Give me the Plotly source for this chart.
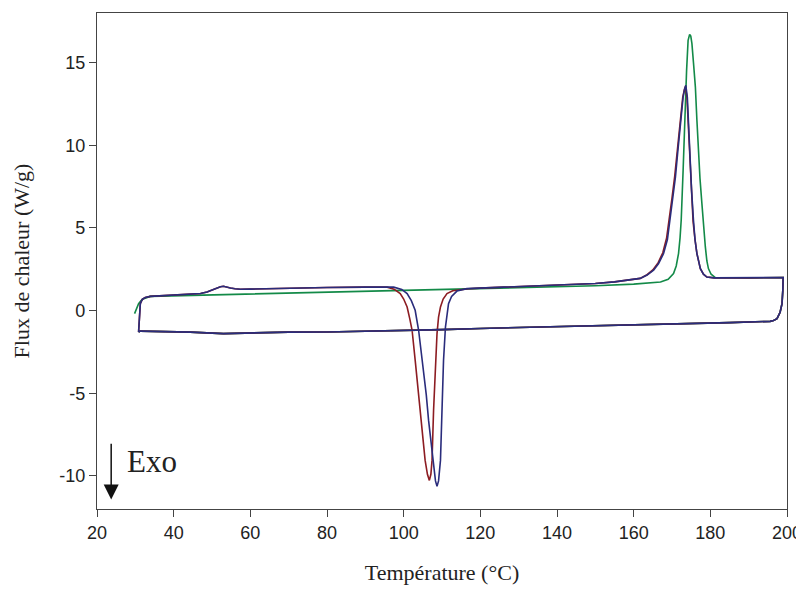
import plotly.graph_objects as go

# ---- data ----
blue_x = [30.85, 31.0, 31.3, 31.8, 32.6, 33.9, 38.0, 44.3, 47.0, 48.7, 50.0, 51.3, 52.2, 53.0, 53.9, 54.8, 56.0, 57.4,
          60.0, 70.0, 80.0, 90.0, 95.0, 97.4, 99.5, 100.9, 102.0, 103.0, 103.9, 104.5, 105.2, 105.9, 106.5, 107.2,
          107.8, 108.3, 108.7, 109.1, 109.6, 110.0, 110.4, 110.9, 111.3, 111.7, 112.5, 113.9, 116.5, 120.0, 130.0,
          140.0, 150.0, 155.0, 158.0, 160.0, 161.7, 163.5, 165.2, 166.5, 167.8, 168.8, 169.5, 170.2, 170.9, 171.5,
          172.0, 172.9, 173.3, 173.6, 174.0, 174.3, 174.6, 175.1, 175.6, 176.0, 176.5, 177.4, 178.2, 179.1, 181.0,
          190.0, 199.0, 198.9, 198.7, 198.2, 197.4, 196.5, 195.6, 185.0, 175.0, 161.7, 150.0, 140.0, 133.0, 120.0,
          110.0, 100.0, 94.0, 80.0, 70.0, 62.0, 53.0, 44.3, 35.0, 31.3, 30.85]
blue_y = [-1.29, -0.40, 0.42, 0.68, 0.79, 0.86, 0.90, 0.98, 1.03, 1.12, 1.25, 1.37, 1.44, 1.47, 1.44, 1.37, 1.32, 1.29,
          1.30, 1.37, 1.40, 1.42, 1.43, 1.42, 1.28, 1.03, 0.60, 0.02, -1.19, -2.30, -3.61, -5.10, -6.64, -8.20,
          -9.46, -10.30, -10.63, -10.30, -9.06, -6.03, -3.00, -1.00, -0.10, 0.42, 0.85, 1.18, 1.33, 1.36, 1.44,
          1.52, 1.64, 1.74, 1.84, 1.90, 1.95, 2.15, 2.44, 2.85, 3.45, 4.30, 5.46, 6.70, 8.08, 9.60,
          10.90, 12.92, 13.40, 13.63, 12.92, 11.40, 9.50, 7.30, 5.46, 4.30, 3.45, 2.54, 2.20, 2.03, 1.98,
          1.98, 2.00, 1.20, 0.42, -0.10, -0.49, -0.60, -0.65, -0.73, -0.78, -0.83, -0.90, -0.95, -0.99, -1.08,
          -1.15, -1.20, -1.25, -1.29, -1.30, -1.36, -1.39, -1.30, -1.26, -1.24, -1.29]

red_x = [30.85, 31.0, 31.3, 31.8, 32.6, 33.9, 38.0, 44.3, 47.0, 48.7, 50.0, 51.3, 52.2, 53.0, 53.9, 54.8, 56.0, 57.4,
         60.0, 70.0, 80.0, 90.0, 95.0, 95.7, 97.5, 99.1, 100.0, 100.9, 101.6, 102.2, 103.0, 103.9, 104.8, 105.6,
         106.2, 106.7, 107.1, 107.4, 107.8, 108.3, 108.7, 109.1, 109.6, 110.3, 111.3, 112.8, 114.8, 117.0, 120.0,
         130.0, 140.0, 150.0, 155.0, 158.0, 160.0, 161.7, 163.5, 165.0, 166.4, 167.6, 168.6, 169.3, 170.0, 170.7,
         171.4, 171.9, 172.8, 173.2, 173.5, 173.9, 174.2, 174.5, 175.0, 175.5, 176.0, 176.5, 177.4, 178.2, 179.1,
         181.0, 190.0, 199.0, 198.9, 198.7, 198.2, 197.4, 196.5, 195.6, 185.0, 175.0, 161.7, 150.0, 140.0, 133.0,
         120.0, 110.0, 100.0, 94.0, 80.0, 70.0, 62.0, 53.0, 44.3, 35.0, 31.3, 30.85]
red_y = [-1.29, -0.40, 0.42, 0.68, 0.79, 0.86, 0.90, 0.98, 1.03, 1.12, 1.25, 1.37, 1.44, 1.47, 1.44, 1.37, 1.32, 1.29,
         1.30, 1.37, 1.40, 1.42, 1.43, 1.42, 1.30, 1.03, 0.70, 0.22, -0.50, -1.19, -3.00, -5.02, -7.04, -9.06,
         -9.90, -10.27, -9.90, -9.06, -6.03, -3.41, -1.39, -0.40, 0.22, 0.70, 1.03, 1.20, 1.27, 1.32, 1.36,
         1.44, 1.52, 1.64, 1.74, 1.84, 1.90, 1.95, 2.17, 2.46, 2.90, 3.50, 4.40, 5.50, 6.80, 8.10,
         9.70, 10.90, 12.90, 13.35, 13.55, 12.90, 11.40, 9.50, 7.30, 5.40, 4.30, 3.45, 2.54, 2.20, 2.03,
         1.98, 1.98, 2.00, 1.20, 0.42, -0.10, -0.49, -0.60, -0.65, -0.73, -0.78, -0.83, -0.90, -0.95, -0.99,
         -1.08, -1.15, -1.20, -1.25, -1.29, -1.30, -1.36, -1.39, -1.30, -1.26, -1.24, -1.29]

green_x = [29.8, 30.3, 30.85, 31.5, 32.2, 33.9, 44.3, 55.0, 70.4, 85.0, 94.0, 105.0, 115.0, 120.0, 130.0, 140.0,
           150.0, 160.0, 164.0, 167.0, 169.0, 170.4, 171.1, 171.7, 172.1, 172.4, 172.9, 173.3, 173.8, 174.2, 174.6,
           174.9, 175.2, 175.6, 176.1, 176.5, 176.9, 177.3, 177.8, 178.2, 178.7, 179.1, 179.5, 180.2, 181.3, 190.0,
           199.0, 198.9, 198.7, 198.2, 197.4, 196.5, 195.6, 185.0, 175.0, 161.7, 150.0, 140.0, 133.0, 120.0, 110.0,
           100.0, 94.0, 80.0, 70.0, 62.0, 53.0, 44.3, 35.0, 31.3, 30.85]
green_y = [-0.18, 0.10, 0.42, 0.60, 0.72, 0.86, 0.92, 0.98, 1.06, 1.13, 1.19, 1.25, 1.30, 1.33, 1.38, 1.43,
           1.50, 1.60, 1.66, 1.73, 1.90, 2.24, 2.70, 3.45, 4.40, 5.46, 8.49, 11.50, 14.50, 16.35, 16.71,
           16.60, 16.15, 15.00, 13.52, 11.50, 9.49, 8.00, 6.47, 5.10, 3.85, 3.00, 2.54, 2.20, 2.00, 1.98,
           2.00, 1.20, 0.42, -0.10, -0.49, -0.60, -0.65, -0.73, -0.78, -0.83, -0.90, -0.95, -0.99, -1.08, -1.15,
           -1.20, -1.25, -1.29, -1.30, -1.36, -1.39, -1.30, -1.26, -1.24, -1.29]

x_ticks = [20, 40, 60, 80, 100, 120, 140, 160, 180, 200]
y_ticks = [-10, -5, 0, 5, 10, 15]
y_tick_labels = ["-10", "-5", "0", "5", "10", "15"]

GREEN = "#138a48"
RED = "#8c1c22"
BLUE = "#2a2c7c"

fig = go.Figure()
fig.add_trace(go.Scatter(x=green_x, y=green_y, mode="lines", line=dict(color=GREEN, width=1.6), showlegend=False))
fig.add_trace(go.Scatter(x=red_x, y=red_y, mode="lines", line=dict(color=RED, width=1.6), showlegend=False))
fig.add_trace(go.Scatter(x=blue_x, y=blue_y, mode="lines", line=dict(color=BLUE, width=1.6), showlegend=False))

axis_common = dict(showgrid=False, zeroline=False, showline=True, linecolor="#444444", linewidth=1.3,
                   mirror=True, ticks="outside", ticklen=7, tickwidth=1.2, tickcolor="#444444",
                   automargin=False,
                   tickfont=dict(family="Liberation Sans, Arial", size=18, color="#222222"))

fig.update_xaxes(range=[20, 200], tickvals=x_ticks,
                 title=dict(text="Température (°C)", font=dict(family="Liberation Serif, Times New Roman", size=22, color="#222222"), standoff=22),
                 **axis_common)
fig.update_yaxes(range=[-12, 18], tickvals=y_ticks, ticktext=y_tick_labels,
                 title=dict(text="Flux de chaleur (W/g)", font=dict(family="Liberation Serif, Times New Roman", size=22, color="#222222"), standoff=23),
                 **axis_common)

fig.add_annotation(x=23.7, y=-11.42, ax=23.7, ay=-7.97, xref="x", yref="y", axref="x", ayref="y",
                   text="", showarrow=True, arrowhead=2, arrowwidth=1.5, arrowsize=2, arrowcolor="#111111")
fig.add_annotation(x=27.4, y=-9.1, xref="x", yref="y", text="Exo", showarrow=False, xanchor="left", yanchor="middle",
                   font=dict(family="Liberation Serif, Times New Roman", size=31, color="#222222"))

# page body has an 8px default margin, so the figure is sized to fill the rest of the window
fig.update_layout(template="none", width=796, height=582, margin=dict(l=89, r=17, t=5, b=81),
                  plot_bgcolor="white", paper_bgcolor="white")

fig.write_html("out.html")
